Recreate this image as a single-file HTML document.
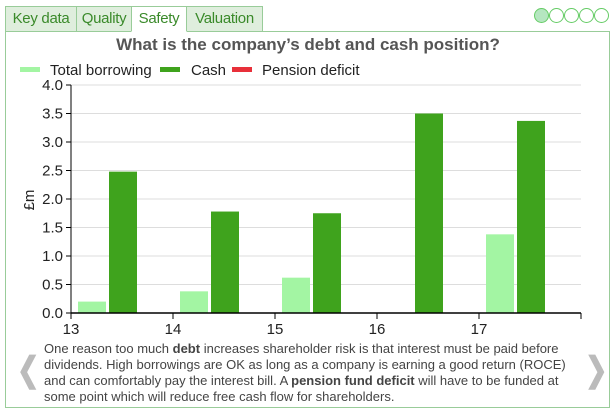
<!DOCTYPE html>
<html><head><meta charset="utf-8"><style>
body{margin:0;width:616px;height:413px;background:#fff;font-family:"Liberation Sans",sans-serif;position:relative;overflow:hidden}
.tab{position:absolute;top:6px;height:26px;border:1px solid #9c9;background:#dfeedd;color:#3a8a2a;font-size:15px;line-height:24px;text-align:center;box-sizing:border-box;letter-spacing:-0.3px}
.panel{position:absolute;left:5px;top:31px;width:605px;height:377px;border:1px solid #9c9;box-sizing:border-box}
.dot{position:absolute;top:8px;width:15px;height:15px;border:1.5px solid #6c6;border-radius:50%;box-sizing:border-box}
.txt{position:absolute;left:44px;top:341px;width:526px;font-size:13px;line-height:16px;color:#444}
.arrow{position:absolute;top:350px;font-size:34px;color:#bbb;font-weight:bold;transform:scaleX(0.8)}
</style></head><body>
<div class="tab" style="left:5px;width:72px">Key data</div>
<div class="tab" style="left:76px;width:56px">Quality</div>
<div class="tab" style="left:131px;width:56px;background:#fff;border-bottom-color:#fff;z-index:2">Safety</div>
<div class="tab" style="left:186px;width:77px">Valuation</div>
<div class="dot" style="left:534px;background:#b5e6c0"></div>
<div class="dot" style="left:549px"></div>
<div class="dot" style="left:564px"></div>
<div class="dot" style="left:579px"></div>
<div class="dot" style="left:594px"></div>
<div class="panel"></div>
<svg id="chart" width="616" height="413" style="position:absolute;left:0;top:0">
<text x="308" y="50" text-anchor="middle" font-size="17" font-weight="bold" fill="#555">What is the company’s debt and cash position?</text>
<g font-size="15" fill="#222">
<rect x="20" y="67" width="20" height="5" fill="#a3f5a3"/><text x="50" y="75">Total borrowing</text>
<rect x="160" y="67" width="20" height="5" fill="#3fa31d"/><text x="191" y="75">Cash</text>
<rect x="232" y="67" width="20" height="5" fill="#e8303a"/><text x="262" y="75">Pension deficit</text>
</g>
<text transform="translate(34,200) rotate(-90)" text-anchor="middle" font-size="15" fill="#222">£m</text>
<g id="plot"></g>
</svg>
<div class="arrow" style="left:14px">&#10094;</div>
<div class="arrow" style="left:582px">&#10095;</div>
<div class="txt">One reason too much <b>debt</b> increases shareholder risk is that interest must be paid before dividends. High borrowings are OK as long as a company is earning a good return (ROCE) and can comfortably pay the interest bill. A <b>pension fund deficit</b> will have to be funded at some point which will reduce free cash flow for shareholders.</div>
<script>
const years=["13","14","15","16","17"];
const borrowing=[0.2,0.38,0.62,0,1.38];
const cash=[2.48,1.78,1.75,3.5,3.37];
const pension=[0,0,0,0,0];
const yTicks=[0,0.5,1,1.5,2,2.5,3,3.5,4];
const NS="http://www.w3.org/2000/svg";
const g=document.getElementById('plot');
const x0=71,x1=581,yb=313,yt=85,yMax=4;
const band=(x1-x0)/years.length;
const xs=i=>x0+i*band;
const ys=v=>yb-v/yMax*(yb-yt);
function mk(t,a){const e=document.createElementNS(NS,t);for(const k in a)e.setAttribute(k,a[k]);g.appendChild(e);return e;}
yTicks.forEach(v=>{
 const l=mk('line',{x1:x0,x2:x1,y1:ys(v),y2:ys(v),stroke:'#ddd'});
 
 
 mk('line',{x1:x0-5,x2:x0,y1:ys(v),y2:ys(v),stroke:'#000'});
 const t=mk('text',{x:x0-8,y:ys(v)+5,'text-anchor':'end','font-size':15,fill:'#222'});
 t.textContent=v.toFixed(1);
 
 
});
const series=[[borrowing,'#a3f5a3','borrowing'],[cash,'#3fa31d','cash'],[pension,'#e8303a','pension']];
years.forEach((y,i)=>{
 series.forEach(([arr,c,n],k)=>{
  if(arr[i]<=0)return;
  const r=mk('rect',{x:xs(i)+7+k*31,y:ys(arr[i]),width:28,height:yb-ys(arr[i]),fill:c});
  
  
 });
 const t=mk('text',{x:xs(i),y:yb+21,'text-anchor':'middle','font-size':15,fill:'#222'});
 t.textContent=y;
 
 
});
for(let i=0;i<=years.length;i++)mk('line',{x1:xs(i),x2:xs(i),y1:yb,y2:yb+6,stroke:'#000'});
mk('line',{x1:x0,x2:x0,y1:yt,y2:yb,stroke:'#000'});
mk('line',{x1:x0,x2:x1,y1:yb,y2:yb,stroke:'#000','stroke-width':1.5});
</script>
</body></html>
